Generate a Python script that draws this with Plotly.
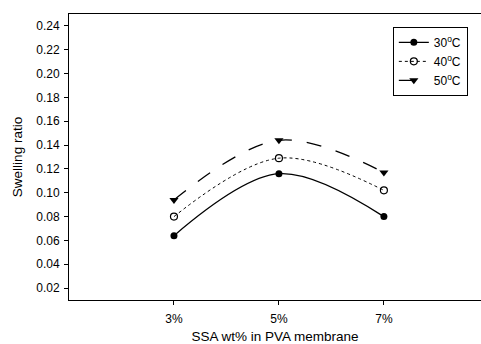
import plotly.graph_objects as go

categories = ["3%", "5%", "7%"]
x_pos = [3, 5, 7]
s30 = [0.064, 0.116, 0.080]
s40 = [0.080, 0.129, 0.102]
s50 = [0.094, 0.144, 0.117]
names = ["30<sup>o</sup>C", "40<sup>o</sup>C", "50<sup>o</sup>C"]

fig = go.Figure()
fig.add_trace(go.Scatter(x=x_pos, y=s30, name=names[0], mode="lines+markers",
                         line=dict(color="black", width=1.3, shape="spline", smoothing=1.0),
                         marker=dict(symbol="circle", size=7, color="black")))
fig.add_trace(go.Scatter(x=x_pos, y=s40, name=names[1], mode="lines+markers",
                         line=dict(color="black", width=1, shape="spline", smoothing=1.0, dash="dot"),
                         marker=dict(symbol="circle-open", size=7, color="black", line=dict(width=1.2))))
fig.add_trace(go.Scatter(x=x_pos, y=s50, name=names[2], mode="lines+markers",
                         line=dict(color="black", width=1.3, shape="spline", smoothing=1.0, dash="longdash"),
                         marker=dict(symbol="triangle-down", size=8, color="black")))

fig.update_layout(
    width=481, height=344,
    margin=dict(l=69, r=0, t=14, b=42),
    paper_bgcolor="white", plot_bgcolor="white",
    font=dict(family="Liberation Sans, Arial", size=12, color="black"),
    legend=dict(x=0.786, y=0.955, xanchor="left", yanchor="top",
                bordercolor="black", borderwidth=1, bgcolor="white",
                font=dict(size=12), tracegroupgap=0, itemwidth=30),
    showlegend=True,
)
fig.update_xaxes(range=[1, 8.85], tickvals=x_pos, ticktext=categories,
                 showgrid=False, zeroline=False, showline=True, linecolor="black", linewidth=1,
                 mirror=True, ticks="outside", ticklen=4, tickcolor="black", ticklabelstandoff=4,
                 title=dict(text="SSA wt% in PVA membrane", font=dict(size=13.5), standoff=8))
fig.update_yaxes(range=[0.01, 0.25], tick0=0.02, dtick=0.02, tickformat=".2f",
                 showgrid=False, zeroline=False, showline=True, linecolor="black", linewidth=1,
                 ticks="outside", ticklen=4, tickcolor="black", ticklabelstandoff=2,
                 title=dict(text="Swelling ratio", font=dict(size=13.5), standoff=10))

fig.write_html("out.html", config={"displayModeBar": False},
               post_script="document.body.style.margin='0';document.body.style.overflow='hidden';")
